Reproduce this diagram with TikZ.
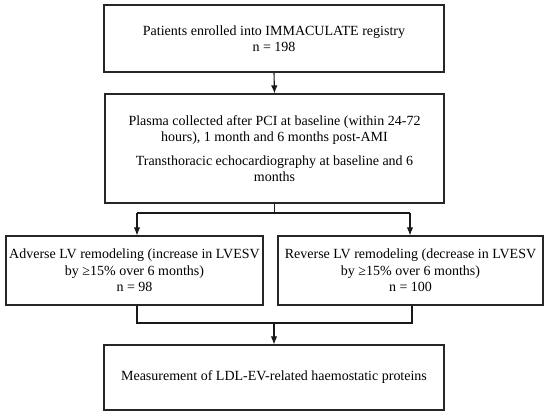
\documentclass[tikz,border=0pt]{standalone}
\usepackage{fontspec}
\setmainfont{Liberation Serif}
\usetikzlibrary{arrows.meta}
\begin{document}
\begin{tikzpicture}[x=1pt,y=-1pt,
  box/.style={draw=black!85, line width=1.2pt, align=center, inner sep=0pt, font=\fontsize{14}{16.5}\selectfont},
  conn/.style={draw=black!90, line width=1.1pt},
  arr/.style={conn, -{Latex[length=8pt,width=6.5pt]}}]
\useasboundingbox (0,0) rectangle (550,418);
\node[box, minimum width=340pt, minimum height=67pt] (b1) at (274,38.5) {Patients enrolled into IMMACULATE registry\\ n = 198};
\node[box, minimum width=339pt, minimum height=109pt] (b2) at (274.5,148.5) {Plasma collected after PCI at baseline (within 24-72\\ hours), 1 month and 6 months post-AMI\\[7pt] Transthoracic echocardiography at baseline and 6\\ months};
\node[box, minimum width=257pt, minimum height=69pt] (bl) at (134.5,270.5) {Adverse LV remodeling (increase in LVESV\\ by ≥15\% over 6 months)\\ n = 98};
\node[box, minimum width=265pt, minimum height=69pt] (br) at (410.5,270.5) {Reverse LV remodeling (decrease in LVESV\\ by ≥15\% over 6 months)\\ n = 100};
\node[box, minimum width=340pt, minimum height=65pt] (b5) at (274,377.5) {Measurement of LDL-EV-related haemostatic proteins};
\coordinate (j1) at (274.5,213);
\coordinate (jl) at (137,213);
\coordinate (jr) at (410,213);
\coordinate (kl) at (137,323);
\coordinate (kr) at (412,323);
\coordinate (km) at (274,323);
\draw[arr] (b1.south) -- (b2.north);
\draw[conn] (b2.south) -- (j1);
\draw[conn] (jl) -- (jr);
\draw[arr] (jl) -- (jl |- bl.north);
\draw[arr] (jr) -- (jr |- br.north);
\draw[conn] (kl |- bl.south) -- (kl) -- (kr) -- (kr |- br.south);
\draw[arr] (km) -- (b5.north);
\end{tikzpicture}
\end{document}
